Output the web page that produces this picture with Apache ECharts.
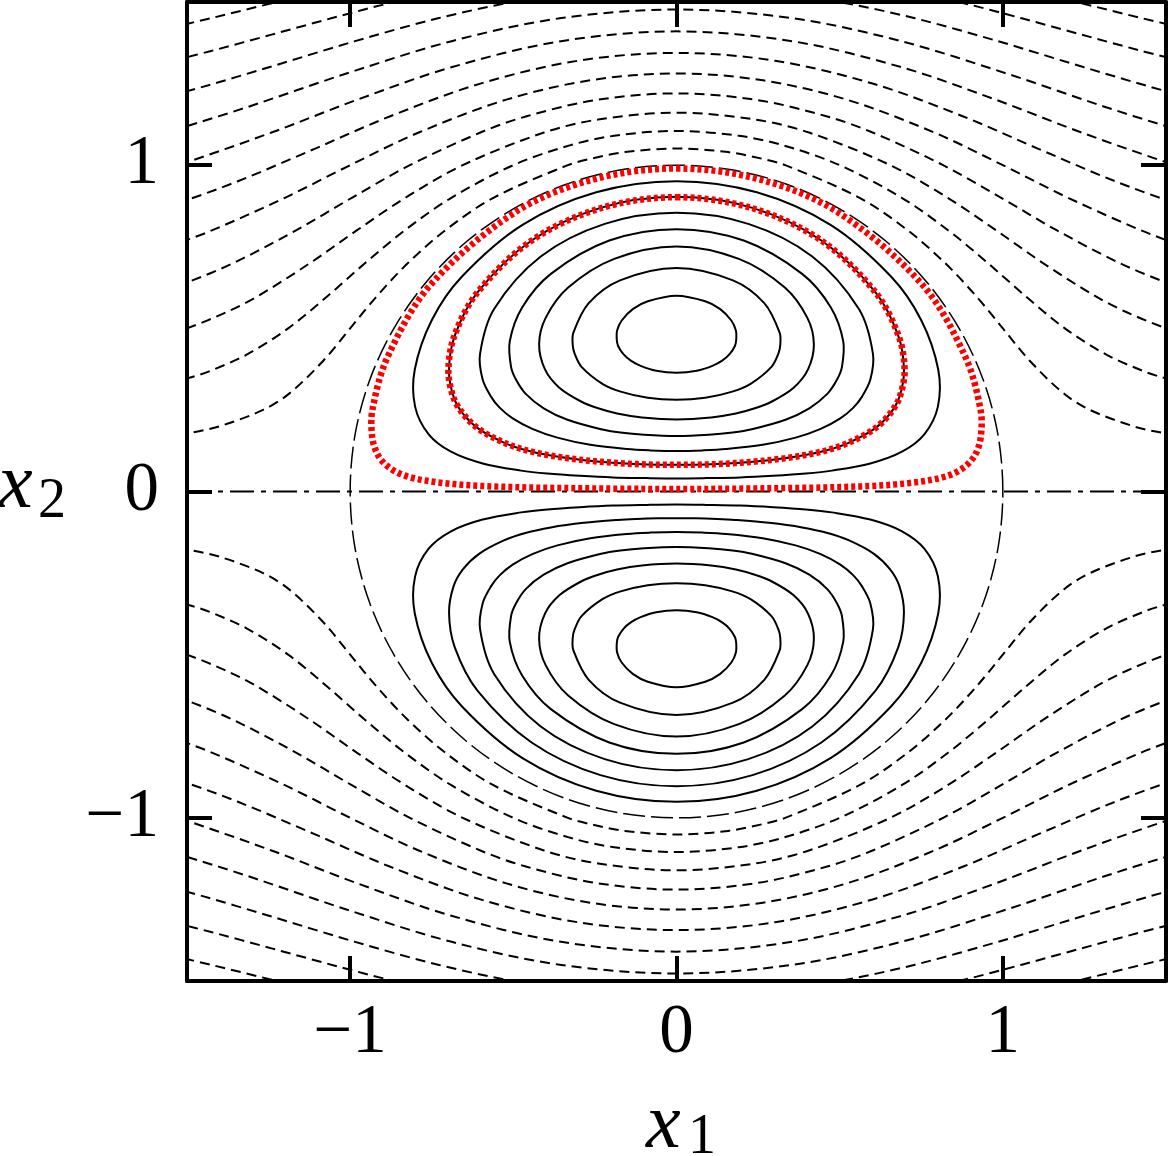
<!DOCTYPE html>
<html>
<head>
<meta charset="utf-8">
<title>Streamlines</title>
<script src="https://cdn.jsdelivr.net/npm/echarts@6/dist/echarts.min.js"></script>
<style>
  html, body { margin: 0; padding: 0; background: #fff; }
  #chart { width: 1169px; height: 1156px; }
</style>
</head>
<body>
<div id="chart"></div>
<script>
// tick values on both axes
var axisTicks = [-1, 0, 1];

// stream function levels (upper half, the lower half is the mirror image)
var innerLevels = [0.1, 0.2, 0.3, 0.4, 0.5, 0.6, 0.7];
var outerLevels = [0.1, 0.2, 0.3, 0.4, 0.5, 0.6, 0.7, 0.8, 0.9, 1.0, 1.1];

// closed streamlines inside the circle, right half [x1, x2], top -> bottom
var innerHalf = [
  [[0, 0.951], [0.246, 0.917], [0.472, 0.817], [0.658, 0.658], [0.750, 0.525], [0.802, 0.374], [0.801, 0.260],
   [0.760, 0.176], [0.691, 0.122], [0.594, 0.086], [0.476, 0.064], [0.396, 0.055], [0.296, 0.048], [0.195, 0.043],
   [0.091, 0.041], [0, 0.040]],
  [[0, 0.903], [0.233, 0.869], [0.444, 0.769], [0.610, 0.610], [0.680, 0.476], [0.697, 0.371], [0.683, 0.290],
   [0.654, 0.238], [0.605, 0.191], [0.529, 0.150], [0.463, 0.127], [0.385, 0.110], [0.284, 0.096], [0.180, 0.087],
   [0.124, 0.084], [0.057, 0.082], [0, 0.082]],
  [[0, 0.854], [0.220, 0.820], [0.416, 0.720], [0.559, 0.559], [0.602, 0.422], [0.594, 0.343], [0.568, 0.290],
   [0.542, 0.257], [0.502, 0.224], [0.440, 0.191], [0.365, 0.165], [0.264, 0.143], [0.152, 0.130], [0.081, 0.126],
   [0, 0.124]],
  [[0, 0.804], [0.206, 0.769], [0.385, 0.667], [0.473, 0.564], [0.511, 0.460], [0.507, 0.382], [0.492, 0.343],
   [0.462, 0.299], [0.407, 0.255], [0.334, 0.220], [0.231, 0.191], [0.172, 0.181], [0.099, 0.174], [0, 0.170]],
  [[0, 0.751], [0.191, 0.713], [0.332, 0.625], [0.401, 0.532], [0.421, 0.451], [0.403, 0.374], [0.359, 0.318],
   [0.291, 0.275], [0.240, 0.255], [0.182, 0.239], [0.106, 0.227], [0, 0.221]],
  [[0, 0.685], [0.173, 0.647], [0.269, 0.577], [0.316, 0.487], [0.318, 0.449], [0.312, 0.422], [0.291, 0.382],
   [0.227, 0.330], [0.171, 0.306], [0.088, 0.287], [0, 0.281]],
  [[0, 0.600], [0.088, 0.583], [0.134, 0.559], [0.168, 0.524], [0.182, 0.493], [0.183, 0.465], [0.179, 0.446],
   [0.162, 0.420], [0.140, 0.401], [0.110, 0.385], [0.062, 0.370], [0, 0.364]]
];

// open streamlines outside the circle, right half [x1, x2], x1 increasing
var outerHalf = [
  [[0, 1.051], [0.158, 1.040], [0.261, 1.020], [0.333, 1.000], [0.561, 0.900], [0.709, 0.800], [0.823, 0.700],
   [0.917, 0.600], [1.000, 0.500], [1.083, 0.400], [1.187, 0.300], [1.267, 0.250], [1.400, 0.200], [1.489, 0.180],
   [1.625, 0.160]],
  [[0, 1.105], [0.191, 1.090], [0.330, 1.060], [0.500, 1.000], [0.690, 0.900], [0.833, 0.800], [0.954, 0.700],
   [1.068, 0.600], [1.190, 0.500], [1.316, 0.420], [1.428, 0.370], [1.487, 0.350], [1.601, 0.320]],
  [[0, 1.161], [0.240, 1.140], [0.406, 1.100], [0.655, 1.000], [0.831, 0.900], [0.980, 0.800], [1.123, 0.700],
   [1.281, 0.600], [1.378, 0.550], [1.500, 0.500], [1.595, 0.470]],
  [[0, 1.220], [0.245, 1.200], [0.459, 1.150], [0.601, 1.100], [0.817, 1.000], [0.995, 0.900], [1.166, 0.800],
   [1.358, 0.700], [1.502, 0.640], [1.625, 0.600]],
  [[0, 1.281], [0.265, 1.260], [0.524, 1.200], [0.790, 1.100], [1.000, 1.000], [1.200, 0.900], [1.424, 0.800],
   [1.532, 0.760], [1.660, 0.720]],
  [[0, 1.344], [0.302, 1.320], [0.601, 1.250], [0.877, 1.150], [1.109, 1.050], [1.346, 0.950], [1.539, 0.880],
   [1.672, 0.840]],
  [[0, 1.410], [0.354, 1.380], [0.690, 1.300], [0.980, 1.200], [1.241, 1.100], [1.528, 1.000], [1.665, 0.960]],
  [[0, 1.477], [0.358, 1.450], [0.689, 1.380], [1.014, 1.280], [1.309, 1.180], [1.499, 1.120], [1.640, 1.080]],
  [[0, 1.547], [0.296, 1.530], [0.500, 1.500], [0.731, 1.450], [0.985, 1.380], [1.249, 1.300], [1.452, 1.240],
   [1.600, 1.200]],
  [[0, 1.618], [0.327, 1.600], [0.645, 1.550], [0.866, 1.500], [1.058, 1.450], [1.241, 1.400], [1.426, 1.350],
   [1.544, 1.320]],
  [[0, 1.691], [0.527, 1.650], [0.800, 1.600], [1.021, 1.550], [1.225, 1.500], [1.428, 1.450], [1.556, 1.420]]
];

// dividing streamline (unit circle), first quadrant
var circleQuarter = [[1, 0], [0.985, 0.174], [0.940, 0.342], [0.866, 0.500], [0.766, 0.643], [0.643, 0.766],
  [0.500, 0.866], [0.342, 0.940], [0.174, 0.985], [0, 1]];

// red dotted orbits (upper half only), right half, top -> bottom
var redOuterHalf = [[0, 0.990], [0.256, 0.956], [0.494, 0.856], [0.754, 0.633], [0.885, 0.413], [0.932, 0.249],
  [0.932, 0.164], [0.915, 0.112], [0.885, 0.077], [0.839, 0.051], [0.772, 0.034], [0.650, 0.020], [0.480, 0.013],
  [0.300, 0.010], [0.100, 0.008], [0, 0.008]];
var redInnerHalf = [[0, 0.902], [0.233, 0.868], [0.444, 0.769], [0.610, 0.610], [0.681, 0.476], [0.699, 0.371],
  [0.684, 0.290], [0.654, 0.238], [0.605, 0.191], [0.529, 0.150], [0.463, 0.127], [0.385, 0.110], [0.284, 0.096],
  [0.180, 0.087], [0.124, 0.084], [0.057, 0.082], [0, 0.082]];

function mirrorX(pts) {
  return pts.map(function (p) { return [-p[0], p[1]]; }).reverse();
}
function flipY(pts) {
  return pts.map(function (p) { return [p[0], -p[1]]; });
}
// right half (top -> bottom) + left half, without repeating the first point
function closedLoop(half) {
  return half.concat(mirrorX(half).slice(1, -1));
}
function openLine(half) {
  return mirrorX(half).concat(half.slice(1));
}

var solidStyle = { color: '#000', width: 2, dash: null };
var dashStyle = { color: '#000', width: 2, dash: [10, 6] };
var redStyle = { color: '#ff0000', width: 6.5, dash: [4, 3] };

// one curve per series, drawn as a smooth polyline through the axis scales
function curveSeries(points, st, closed, z) {
  return {
    type: 'custom',
    coordinateSystem: 'cartesian2d',
    data: points,
    encode: { x: 0, y: 1 },
    clip: true,
    silent: true,
    animation: false,
    z: z || 2,
    renderItem: function (params, api) {
      if (params.dataIndexInside !== 0) return null;
      var pts = [];
      for (var i = 0; i < params.dataInsideLength; i++) {
        pts.push(api.coord([api.value(0, i), api.value(1, i)]));
      }
      var cs = params.coordSys;
      return {
        type: closed ? 'polygon' : 'polyline',
        shape: { points: pts, smooth: pts.length > 2 ? 0.33 : 0 },
        style: { fill: 'none', stroke: st.color, lineWidth: st.width, lineDash: st.dash },
        clipPath: { type: 'rect', shape: { x: cs.x, y: cs.y, width: cs.width, height: cs.height } }
      };
    }
  };
}

var series = [];
innerHalf.forEach(function (half) {
  var loop = closedLoop(half);
  series.push(curveSeries(loop, solidStyle, true));
  series.push(curveSeries(flipY(loop), solidStyle, true));
});
outerHalf.forEach(function (half) {
  var l = openLine(half);
  series.push(curveSeries(l, dashStyle, false));
  series.push(curveSeries(flipY(l), dashStyle, false));
});

var upperCircle = circleQuarter.concat(mirrorX(circleQuarter).slice(1));
var fullCircle = upperCircle.concat(flipY(upperCircle).reverse().slice(1, -1));
series.push(curveSeries(fullCircle, { color: '#000', width: 1.5, dash: [22, 6] }, true, 3));
series.push(curveSeries([[-1.5, 0], [1.5, 0]], { color: '#000', width: 2, dash: [24, 7, 5, 7] }, false, 3));

series.push(curveSeries(closedLoop(redOuterHalf), redStyle, true, 4));
series.push(curveSeries(closedLoop(redInnerHalf), redStyle, true, 4));

var fontFamily = '"Liberation Serif", "Times New Roman", serif';
function tickText(v) {
  return v < 0 ? '\u2212' + Math.abs(v) : String(v);
}

function makeAxis(pos, showLabel, margin) {
  return {
    type: 'value',
    min: -1.5,
    max: 1.5,
    position: pos,
    splitLine: { show: false },
    axisLine: { show: true, onZero: false, lineStyle: { color: '#000', width: 4 } },
    axisTick: { show: true, inside: true, length: 25, customValues: axisTicks,
      lineStyle: { color: '#000', width: 4 } },
    axisLabel: { show: showLabel, customValues: axisTicks, formatter: tickText, color: '#000',
      fontFamily: fontFamily, fontSize: 69, margin: margin || 20 }
  };
}

function nameText(txt, x, y, font) {
  return {
    type: 'text', x: x, y: y, silent: true, z: 10,
    style: { text: txt, fill: '#000', font: font, align: 'left', verticalAlign: 'middle' }
  };
}

var chart = echarts.init(document.getElementById('chart'), null, { renderer: 'canvas' });
chart.setOption({
  animation: false,
  backgroundColor: '#fff',
  grid: { left: 187, top: 2, width: 979, height: 979, containLabel: false },
  xAxis: [makeAxis('bottom', true, 18), makeAxis('top', false)],
  yAxis: [makeAxis('left', true, 28), makeAxis('right', false)],
  graphic: [
    nameText('x', 646, 1126, 'italic 78px Liberation Serif'),
    nameText('1', 688, 1138, '56px Liberation Serif'),
    nameText('x', -2, 486, 'italic 78px Liberation Serif'),
    nameText('2', 38, 502, '56px Liberation Serif')
  ],
  series: series
});
</script>
</body>
</html>
